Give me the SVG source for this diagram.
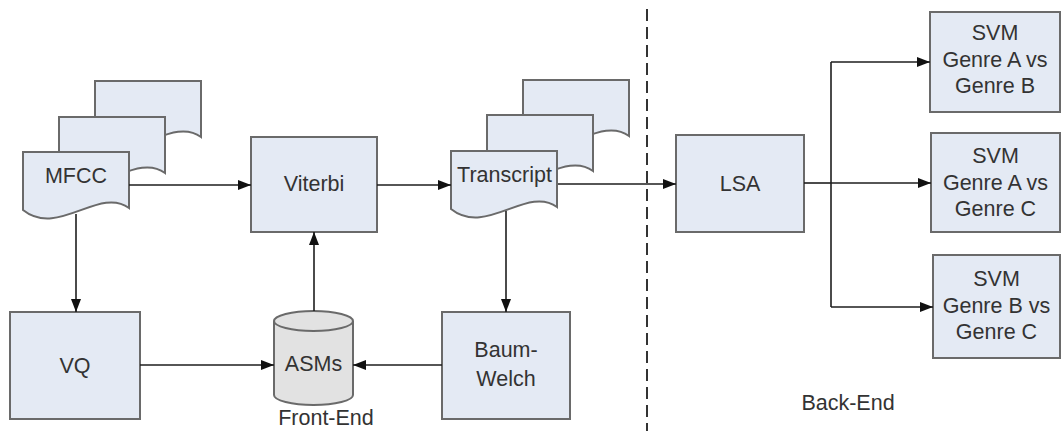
<svg xmlns="http://www.w3.org/2000/svg" xmlns:xlink="http://www.w3.org/1999/xlink" width="1062" height="431" viewBox="0 0 1062 431">
  <style>
    .box { fill: #e4eaf4; stroke: #6a6a6a; stroke-width: 2; }
    .db { fill: #e2e2e2; stroke: #6a6a6a; stroke-width: 2; }
    .lbl { font-family: "Liberation Sans", Arial, sans-serif; font-size: 21.5px; fill: #333333; text-anchor: middle; }
    .wire { fill: none; stroke: #1e1e1e; stroke-width: 1.6; }
    .arr { marker-end: url(#head); }
    .divider { fill: none; stroke: #333333; stroke-width: 2; stroke-dasharray: 12 6; }
  </style>
  <defs>
    <marker id="head" markerUnits="userSpaceOnUse" markerWidth="14" markerHeight="12" viewBox="0 0 14 12" refX="13" refY="6" orient="auto">
      <path d="M0,1 L13,6 L0,11 Z" fill="#111111"/>
    </marker>
    <!-- document sheet with wavy bottom edge -->
    <path id="doc" class="box" d="M0,0 H106 V56 C76,34 35,86 0,58 Z"/>
  </defs>

  <rect width="1062" height="431" fill="#ffffff"/>

  <!-- front-end / back-end divider -->
  <path class="divider" d="M647,9 V431"/>

  <g id="mfcc">
    <use xlink:href="#doc" x="95" y="81"/>
    <use xlink:href="#doc" x="59" y="117"/>
    <use xlink:href="#doc" x="23" y="152"/>
    <text class="lbl" x="76" y="183">MFCC</text>
  </g>

  <g id="viterbi">
    <rect class="box" x="251" y="137" width="126" height="95"/>
    <text class="lbl" x="314" y="191">Viterbi</text>
  </g>

  <g id="transcript">
    <use xlink:href="#doc" x="523" y="80"/>
    <use xlink:href="#doc" x="487" y="115"/>
    <use xlink:href="#doc" x="451" y="151"/>
    <text class="lbl" x="504.5" y="182">Transcript</text>
  </g>

  <g id="vq">
    <rect class="box" x="10" y="312" width="130" height="107"/>
    <text class="lbl" x="75" y="373">VQ</text>
  </g>

  <g id="asms">
    <path class="db" d="M274,321 A39.5,10 0 0 1 353,321 V395 A39.5,10 0 0 1 274,395 Z"/>
    <path class="db" d="M274,321 A39.5,10 0 0 0 353,321" fill="none"/>
    <text class="lbl" x="313.5" y="371">ASMs</text>
  </g>

  <g id="baum-welch">
    <rect class="box" x="442" y="312" width="128" height="107"/>
    <text class="lbl" x="506" y="357">Baum-</text>
    <text class="lbl" x="506" y="386">Welch</text>
  </g>

  <g id="lsa">
    <rect class="box" x="676" y="135" width="128" height="97"/>
    <text class="lbl" x="740" y="191">LSA</text>
  </g>

  <g id="svm-ab">
    <rect class="box" x="930" y="12" width="130" height="100"/>
    <text class="lbl" x="995" y="40">SVM</text>
    <text class="lbl" x="995" y="67">Genre A vs</text>
    <text class="lbl" x="995" y="93">Genre B</text>
  </g>

  <g id="svm-ac">
    <rect class="box" x="931" y="133" width="129" height="99"/>
    <text class="lbl" x="995.5" y="163">SVM</text>
    <text class="lbl" x="995.5" y="190">Genre A vs</text>
    <text class="lbl" x="995.5" y="216">Genre C</text>
  </g>

  <g id="svm-bc">
    <rect class="box" x="933" y="255" width="127" height="103"/>
    <text class="lbl" x="996.5" y="286">SVM</text>
    <text class="lbl" x="996.5" y="313">Genre B vs</text>
    <text class="lbl" x="996.5" y="339">Genre C</text>
  </g>

  <g id="connectors">
    <path class="wire arr" d="M129,185 H251"/>
    <path class="wire arr" d="M377,185 H451"/>
    <path class="wire arr" d="M558,184 H676"/>
    <path class="wire arr" d="M76,214 V312"/>
    <path class="wire arr" d="M506,211 V312"/>
    <path class="wire arr" d="M140,365 H274"/>
    <path class="wire arr" d="M442,365 H353"/>
    <path class="wire arr" d="M314,311 V232"/>
    <path class="wire" d="M804,183 H831" stroke-width="3"/>
    <path class="wire" d="M831,62 V307" stroke="#555555"/>
    <path class="wire arr" d="M831,62 H930"/>
    <path class="wire arr" d="M831,183 H931"/>
    <path class="wire arr" d="M831,307 H933"/>
  </g>

  <g id="section-labels">
    <text class="lbl" x="326" y="425">Front-End</text>
    <text class="lbl" x="848" y="410">Back-End</text>
  </g>
</svg>
